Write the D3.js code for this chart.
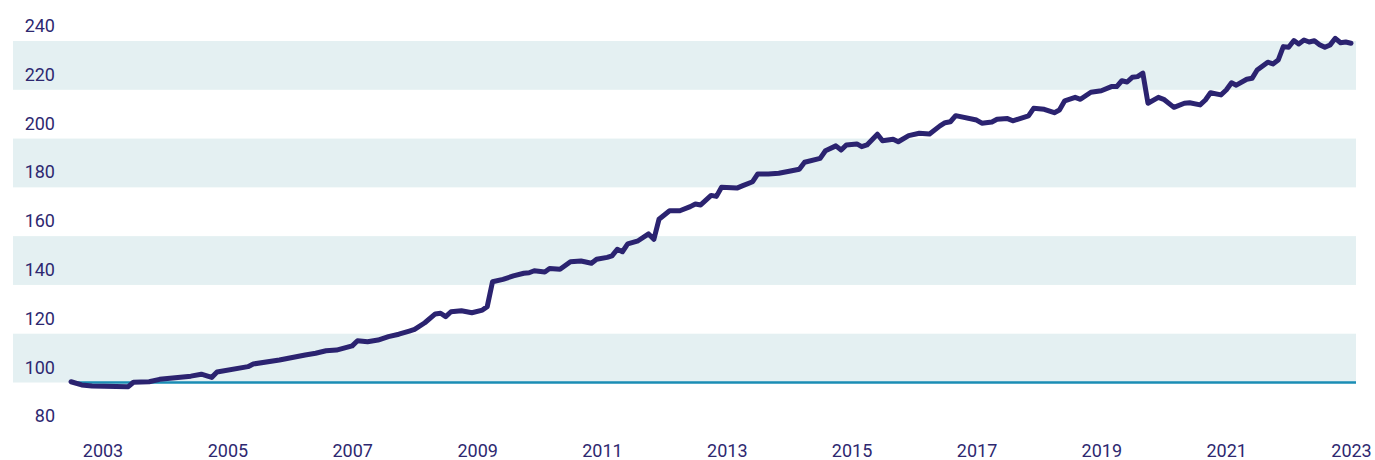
<!doctype html>
<html lang="en">
<head>
  <meta charset="utf-8">
  <title>Index 2002-2023</title>
  <style>
    body { margin: 0; background: #fff; }
    svg { display: block; }
    .axis text {
      font: 18px Roboto, "Noto Sans", sans-serif;
      fill: #2e2870;
    }
    .axis .domain { display: none; }
  </style>
</head>
<body>
  <svg width="1375" height="460"></svg>

  <script src="https://cdn.jsdelivr.net/npm/d3@7"></script>
  <script>
    // monthly readings (YYYY-MM), index value
    var months = [
      "2002-07", "2002-09", "2002-11", "2003-06", "2003-07", "2003-10", "2003-12",
      "2004-06", "2004-08", "2004-10", "2004-11", "2005-05", "2005-06", "2005-11",
      "2006-04", "2006-06", "2006-08", "2006-10", "2007-01", "2007-02", "2007-04",
      "2007-06", "2007-08", "2007-10", "2007-12", "2008-01", "2008-03", "2008-05",
      "2008-06", "2008-07", "2008-08", "2008-10", "2008-11", "2008-12", "2009-02",
      "2009-03", "2009-04", "2009-06", "2009-08", "2009-10", "2009-11", "2009-12",
      "2010-02", "2010-03", "2010-05", "2010-07", "2010-09", "2010-11", "2010-12",
      "2011-02", "2011-03", "2011-04", "2011-05", "2011-06", "2011-08", "2011-10",
      "2011-11", "2011-12", "2012-02", "2012-04", "2012-06", "2012-07", "2012-08",
      "2012-10", "2012-11", "2012-12", "2013-03", "2013-04", "2013-06", "2013-07",
      "2013-09", "2013-11", "2014-01", "2014-03", "2014-04", "2014-07", "2014-08",
      "2014-10", "2014-11", "2014-12", "2015-02", "2015-03", "2015-04", "2015-06",
      "2015-07", "2015-09", "2015-10", "2015-12", "2016-02", "2016-04", "2016-06",
      "2016-07", "2016-08", "2016-09", "2017-01", "2017-02", "2017-04", "2017-05",
      "2017-07", "2017-08", "2017-11", "2017-12", "2018-02", "2018-04", "2018-05",
      "2018-06", "2018-08", "2018-09", "2018-11", "2019-01", "2019-03", "2019-04",
      "2019-05", "2019-06", "2019-07", "2019-08", "2019-09", "2019-10", "2019-12",
      "2020-01", "2020-03", "2020-05", "2020-06", "2020-08", "2020-09", "2020-10",
      "2020-12", "2021-01", "2021-02", "2021-03", "2021-05", "2021-06", "2021-07",
      "2021-09", "2021-10", "2021-11", "2021-12", "2022-01", "2022-02", "2022-03",
      "2022-04", "2022-05", "2022-06", "2022-07", "2022-08", "2022-09", "2022-10",
      "2022-11", "2022-12", "2023-01"
    ];
    var values = [
      100.3, 99.0, 98.6, 98.3, 100.1, 100.3, 101.3,
      102.6, 103.4, 102.1, 104.3, 106.5, 107.6, 109.2,
      111.3, 112.0, 113.0, 113.3, 115.0, 117.1, 116.7,
      117.4, 118.8, 119.8, 121.1, 121.8, 124.5, 128.1,
      128.4, 127.0, 129.0, 129.4, 129.0, 128.6, 129.7,
      131.1, 141.3, 142.3, 143.7, 144.8, 145.0, 145.8,
      145.3, 146.7, 146.4, 149.5, 149.8, 148.9, 150.5,
      151.3, 151.9, 154.6, 153.6, 156.8, 158.1, 160.9,
      158.7, 166.9, 170.4, 170.4, 172.1, 173.2, 172.8,
      176.7, 176.3, 180.0, 179.7, 180.6, 182.3, 185.5,
      185.5, 185.8, 186.6, 187.4, 190.3, 191.9, 195.0,
      197.0, 195.3, 197.4, 197.8, 196.7, 197.4, 201.8,
      199.1, 199.7, 198.7, 201.2, 202.2, 201.9, 205.2,
      206.5, 206.9, 209.4, 207.6, 206.3, 206.8, 207.9,
      208.2, 207.3, 209.3, 212.4, 212.0, 210.6, 211.7,
      215.5, 216.9, 216.1, 219.0, 219.6, 221.3, 221.3,
      223.7, 223.2, 225.1, 225.4, 226.8, 214.5, 216.9,
      216.1, 212.8, 214.5, 214.7, 213.8, 215.8, 218.8,
      217.9, 219.9, 222.9, 221.9, 224.3, 224.7, 228.1,
      231.3, 230.6, 232.2, 237.7, 237.4, 240.2, 238.8,
      240.4, 239.6, 240.1, 238.5, 237.4, 238.4, 241.1,
      239.3, 239.6, 239.1
    ];
    var yTicks = [80, 100, 120, 140, 160, 180, 200, 220, 240];
    var bandRanges = [[100, 120], [140, 160], [180, 200], [220, 240]];
    var xTickYears = [2003, 2005, 2007, 2009, 2011, 2013, 2015, 2017, 2019, 2021, 2023];
    var baseValue = 100;

    var parseMonth = d3.timeParse("%Y-%m");
    var data = months.map(function (m, i) { return { date: parseMonth(m), value: values[i] }; });

    var svg = d3.select("svg"),
      left = 13, right = 1356;

    var x = d3.scaleTime()
      .domain([new Date(2003, 0, 1), new Date(2023, 0, 1)])
      .range([102.5, 1351]);

    var y = d3.scaleLinear()
      .domain([100, 240])
      .range([382.5, 41]);

    // shaded bands
    svg.append("g").selectAll("rect")
      .data(bandRanges)
      .enter().append("rect")
      .attr("x", left)
      .attr("width", right - left)
      .attr("y", function (d) { return y(d[1]); })
      .attr("height", function (d) { return y(d[0]) - y(d[1]); })
      .attr("fill", "#e4f0f2");

    // y axis labels sit above their value
    var yAxis = svg.append("g")
      .attr("class", "axis")
      .attr("transform", "translate(55,0)")
      .call(d3.axisLeft(y).tickValues(yTicks).tickSize(0).tickPadding(0));
    yAxis.selectAll("text").attr("dy", null).attr("y", -9.5);
    yAxis.selectAll("line").remove();

    // x axis labels
    var xAxis = svg.append("g")
      .attr("class", "axis")
      .call(d3.axisBottom(x)
        .tickValues(xTickYears.map(function (yr) { return new Date(yr, 0, 1); }))
        .tickFormat(d3.timeFormat("%Y"))
        .tickSize(0));
    xAxis.selectAll("text").attr("dy", null).attr("y", 457);
    xAxis.selectAll("line").remove();

    // baseline at 100
    svg.append("line")
      .attr("x1", x(data[0].date))
      .attr("x2", right)
      .attr("y1", y(baseValue))
      .attr("y2", y(baseValue))
      .attr("stroke", "#1a8db4")
      .attr("stroke-width", 2.5);

    var line = d3.line()
      .x(function (d) { return x(d.date); })
      .y(function (d) { return y(d.value); });

    svg.append("path")
      .datum(data)
      .attr("d", line)
      .attr("fill", "none")
      .attr("stroke", "#2b2370")
      .attr("stroke-width", 5)
      .attr("stroke-linejoin", "round")
      .attr("stroke-linecap", "round");
  </script>
</body>
</html>
